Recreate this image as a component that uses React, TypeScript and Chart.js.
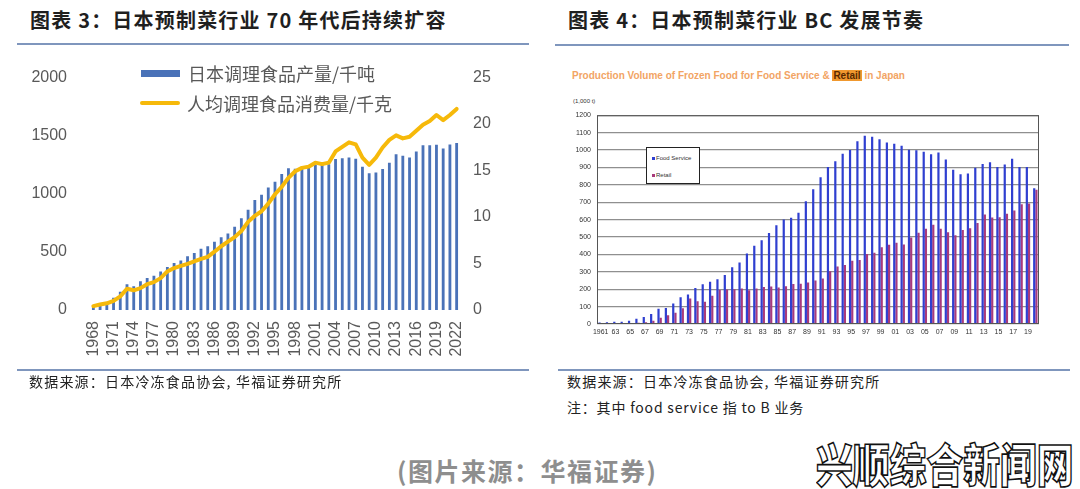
import React, { useEffect, useRef } from "react";
import { Chart, registerables } from "chart.js";
Chart.register(...registerables);

// ---------- Left chart data (图表 3) ----------
const yearsA = [
  "1968","1969","1970","1971","1972","1973","1974","1975","1976","1977",
  "1978","1979","1980","1981","1982","1983","1984","1985","1986","1987",
  "1988","1989","1990","1991","1992","1993","1994","1995","1996","1997",
  "1998","1999","2000","2001","2002","2003","2004","2005","2006","2007",
  "2008","2009","2010","2011","2012","2013","2014","2015","2016","2017",
  "2018","2019","2020","2021","2022",
];
const productionA = [
  30, 42, 58, 105, 157, 222, 204, 248, 275, 295,
  332, 371, 405, 426, 463, 491, 528, 549, 588, 627,
  659, 716, 790, 863, 946, 991, 1054, 1103, 1171, 1220,
  1215, 1220, 1228, 1249, 1247, 1254, 1299, 1307, 1312, 1302,
  1233, 1176, 1184, 1213, 1268, 1341, 1328, 1312, 1364, 1417,
  1417, 1422, 1390, 1424, 1437,
];
const perCapitaA = [
  0.42, 0.59, 0.72, 0.98, 1.47, 2.29, 2.12, 2.35, 2.78, 3.0,
  3.43, 4.15, 4.51, 4.74, 4.97, 5.23, 5.49, 5.72, 6.27, 6.86,
  7.35, 7.84, 8.5, 9.48, 10.13, 10.62, 11.44, 12.45, 13.24, 14.22,
  14.93, 15.29, 15.42, 15.85, 15.69, 15.85, 17.06, 17.55, 18.04, 17.81,
  16.4, 15.62, 16.4, 17.48, 18.3, 18.79, 18.46, 18.63, 19.28, 19.93,
  20.33, 20.98, 20.42, 20.98, 21.63,
];
const seriesNamesA = ["日本调理食品产量/千吨", "人均调理食品消费量/千克"];

// ---------- Right chart data (图表 4) ----------
const yearsB = [
  "1961","62","63","64","65","66","67","68","69","70",
  "71","72","73","74","75","76","77","78","79","80",
  "81","82","83","84","85","86","87","88","89","90",
  "91","92","93","94","95","96","97","98","99","00",
  "01","02","03","04","05","06","07","08","09","10",
  "11","12","13","14","15","16","17","18","19","20",
];
const foodService = [
  8, 10, 13, 13, 18, 30, 40, 57, 88, 92,
  118, 154, 170, 207, 228, 243, 257, 282, 326, 354,
  405, 450, 482, 523, 568, 600, 611, 640, 706, 775,
  843, 902, 935, 978, 1000, 1050, 1082, 1076, 1062, 1043,
  1036, 1025, 1002, 999, 990, 975, 985, 946, 887, 860,
  865, 898, 920, 930, 903, 917, 950, 902, 902, 780,
];
const retail = [
  2, 3, 3, 4, 5, 7, 10, 18, 36, 50,
  65, 90, 147, 131, 128, 162, 195, 198, 200, 204,
  194, 204, 213, 215, 210, 217, 230, 232, 238, 250,
  262, 303, 330, 339, 363, 368, 403, 409, 441, 455,
  467, 457, 497, 525, 548, 570, 547, 528, 510, 540,
  551, 581, 629, 612, 613, 634, 652, 688, 693, 772,
];
const seriesNamesB = ["Food Service", "Retail"];

const CJK = '"Noto Sans CJK SC", "Noto Sans", sans-serif';
const SANS = '"Liberation Sans", Arial, sans-serif';
const plain = (v: any) => String(v);

function LeftChart() {
  const ref = useRef<HTMLCanvasElement>(null);
  useEffect(() => {
    const tickFont = { family: SANS, size: 16 };
    const chart = new Chart(ref.current!, {
      type: "bar",
      data: {
        labels: yearsA,
        datasets: [
          {
            type: "line",
            label: seriesNamesA[1],
            data: perCapitaA,
            yAxisID: "y1",
            borderColor: "#F6B90A",
            borderWidth: 4,
            pointRadius: 0,
            tension: 0,
            borderCapStyle: "round",
            borderJoinStyle: "round",
            order: 0,
          } as any,
          {
            type: "bar",
            label: seriesNamesA[0],
            data: productionA,
            yAxisID: "y",
            backgroundColor: "#4A72B8",
            barPercentage: 0.42,
            categoryPercentage: 1,
            order: 1,
          } as any,
        ],
      },
      options: {
        responsive: false,
        animation: false,
        layout: { padding: { top: 10 } },
        plugins: { legend: { display: false }, tooltip: { enabled: false } },
        scales: {
          x: {
            grid: { display: false, drawTicks: false },
            border: { display: false },
            ticks: {
              autoSkip: false,
              maxRotation: 90,
              minRotation: 90,
              padding: 11,
              color: "#595959",
              font: tickFont,
              callback: (_v: any, i: number) => (i % 3 === 0 ? yearsA[i] : ""),
            },
            afterFit: (s: any) => { s.height = 70; },
          },
          y: {
            position: "left",
            min: 0,
            max: 2000,
            ticks: { stepSize: 500, padding: 23, color: "#595959", font: tickFont, callback: plain },
            grid: { display: false, drawTicks: false },
            border: { display: false },
            afterFit: (s: any) => { s.width = 73; },
          },
          y1: {
            position: "right",
            min: 0,
            max: 25,
            ticks: { stepSize: 5, padding: 13, color: "#595959", font: tickFont, callback: plain },
            grid: { display: false, drawTicks: false },
            border: { display: false },
            afterFit: (s: any) => { s.width = 70; },
          },
        },
      } as any,
    });
    return () => chart.destroy();
  }, []);
  return (
    <canvas
      ref={ref}
      width={513}
      height={335}
      style={{ position: "absolute", left: 17, top: 45, width: 513, height: 335 }}
    />
  );
}

const framePlugin = {
  id: "frame",
  afterDraw(chart: any) {
    const { ctx, chartArea } = chart;
    const { left, top, right, bottom } = chartArea;
    ctx.save();
    ctx.strokeStyle = "#555";
    ctx.lineWidth = 1;
    ctx.strokeRect(left + 0.5, top + 0.5, right - left - 1, bottom - top - 1);
    ctx.restore();
  },
};

function RightChart() {
  const ref = useRef<HTMLCanvasElement>(null);
  useEffect(() => {
    const tickFont = { family: SANS, size: 7 };
    const chart = new Chart(ref.current!, {
      type: "bar",
      data: {
        labels: yearsB,
        datasets: [
          {
            label: seriesNamesB[0],
            data: foodService,
            backgroundColor: "#2F3FD0",
            barPercentage: 1,
            categoryPercentage: 0.6,
          },
          {
            label: seriesNamesB[1],
            data: retail,
            backgroundColor: "#A83A7C",
            barPercentage: 1,
            categoryPercentage: 0.6,
          },
        ],
      },
      options: {
        responsive: false,
        animation: false,
        layout: { padding: { top: 9, right: 11 } },
        plugins: { legend: { display: false }, tooltip: { enabled: false } },
        scales: {
          x: {
            grid: { display: false, drawTicks: false },
            border: { display: false },
            ticks: {
              autoSkip: false,
              maxRotation: 0,
              minRotation: 0,
              padding: 4,
              color: "#333",
              font: tickFont,
              callback: (_v: any, i: number) => (i % 2 === 0 ? yearsB[i] : ""),
            },
            afterFit: (s: any) => { s.height = 21; },
          },
          y: {
            min: 0,
            max: 1200,
            ticks: { stepSize: 100, padding: 6, color: "#333", font: tickFont, callback: plain },
            grid: { color: "#8f8f8f", lineWidth: 1.2, drawTicks: false },
            border: { display: false },
            afterFit: (s: any) => { s.width = 37; },
          },
        },
      } as any,
      plugins: [framePlugin],
    });
    return () => chart.destroy();
  }, []);
  return (
    <canvas
      ref={ref}
      width={490}
      height={240}
      style={{ position: "absolute", left: 560, top: 105, width: 490, height: 240 }}
    />
  );
}

const abs = (s: React.CSSProperties): React.CSSProperties => ({ position: "absolute", whiteSpace: "nowrap", ...s });

export default function App() {
  return (
    <div
      style={{
        position: "absolute",
        left: 0,
        top: 0,
        width: 1080,
        height: 489,
        background: "#fff",
        overflow: "hidden",
      }}
    >
      {/* Titles */}
      <div style={abs({ left: 30, top: 7, fontFamily: CJK, fontWeight: 700, fontSize: 20, lineHeight: "26px", color: "#1f1f1f", letterSpacing: 1.2 })}>
        图表 3：日本预制菜行业 70 年代后持续扩容
      </div>
      <div style={abs({ left: 568, top: 7, fontFamily: CJK, fontWeight: 700, fontSize: 20, lineHeight: "26px", color: "#1f1f1f", letterSpacing: 1.2 })}>
        图表 4：日本预制菜行业 BC 发展节奏
      </div>

      {/* Rules */}
      <div style={abs({ left: 17, top: 43, width: 512, height: 2, background: "#7f96bd" })} />
      <div style={abs({ left: 555, top: 44, width: 514, height: 2, background: "#7f96bd" })} />
      <div style={abs({ left: 17, top: 369, width: 512, height: 2, background: "#7f96bd" })} />
      <div style={abs({ left: 558, top: 369, width: 512, height: 2, background: "#7f96bd" })} />

      <LeftChart />

      {/* Left legend */}
      <div style={abs({ left: 141, top: 70, width: 39, height: 7, background: "#4A72B8" })} />
      <div style={abs({ left: 188, top: 60, fontFamily: CJK, fontSize: 18, lineHeight: "26px", color: "#595959" })}>
        {seriesNamesA[0]}
      </div>
      <div style={abs({ left: 140, top: 101, width: 40, height: 4, borderRadius: 2, background: "#F6B90A" })} />
      <div style={abs({ left: 187, top: 90, fontFamily: CJK, fontSize: 18, lineHeight: "26px", color: "#595959" })}>
        {seriesNamesA[1]}
      </div>

      {/* Right chart header */}
      <div style={abs({ left: 572, top: 70, fontFamily: SANS, fontWeight: 700, fontSize: 10, lineHeight: "12px", color: "#F2A464" })}>
        Production Volume of Frozen Food for Food Service &amp;{" "}
        <span style={{ background: "#F0982E", color: "#5a2a00", padding: "0 1px" }}>Retail</span> in Japan
      </div>
      <div style={abs({ left: 573, top: 97, fontFamily: SANS, fontSize: 6, lineHeight: "8px", color: "#333" })}>
        (1,000 t)
      </div>

      <RightChart />

      {/* Right legend box */}
      <div
        style={abs({
          left: 646,
          top: 147,
          width: 52,
          height: 35,
          border: "1px solid #222",
          background: "#fff",
          fontFamily: SANS,
          fontSize: 6,
          color: "#333",
        })}
      >
        <div style={abs({ left: 5, top: 6, lineHeight: "8px" })}>
          <span style={{ display: "inline-block", width: 3, height: 3, background: "#2F3FD0", marginRight: 1, verticalAlign: "middle" }} />
          {seriesNamesB[0]}
        </div>
        <div style={abs({ left: 5, top: 23, lineHeight: "8px" })}>
          <span style={{ display: "inline-block", width: 3, height: 3, background: "#A83A7C", marginRight: 1, verticalAlign: "middle" }} />
          {seriesNamesB[1]}
        </div>
      </div>

      {/* Sources */}
      <div style={abs({ left: 29, top: 372, fontFamily: CJK, fontSize: 14, lineHeight: "18px", color: "#222", letterSpacing: 1.2 })}>
        数据来源：日本冷冻食品协会, 华福证券研究所
      </div>
      <div style={abs({ left: 567, top: 372, fontFamily: CJK, fontSize: 14, lineHeight: "18px", color: "#222", letterSpacing: 1.2 })}>
        数据来源：日本冷冻食品协会, 华福证券研究所
      </div>
      <div style={abs({ left: 567, top: 398, fontFamily: CJK, fontSize: 14, lineHeight: "18px", color: "#222", letterSpacing: 0.8 })}>
        注：其中 food service 指 to B 业务
      </div>

      {/* Caption */}
      <div style={abs({ left: 397, top: 454, fontFamily: CJK, fontWeight: 700, fontSize: 25, lineHeight: "32px", color: "#8e8e8e", letterSpacing: 1.5 })}>
        (图片来源：华福证券)
      </div>

      {/* Watermark */}
      <div
        style={abs({
          left: 816,
          top: 436,
          fontFamily: CJK,
          fontWeight: 900,
          fontSize: 46,
          lineHeight: "52px",
          color: "#fff",
          WebkitTextStroke: "1.6px #111",
          transform: "scaleX(0.8)",
          transformOrigin: "left top",
        } as any)}
      >
        兴顺综合新闻网
      </div>
    </div>
  );
}
